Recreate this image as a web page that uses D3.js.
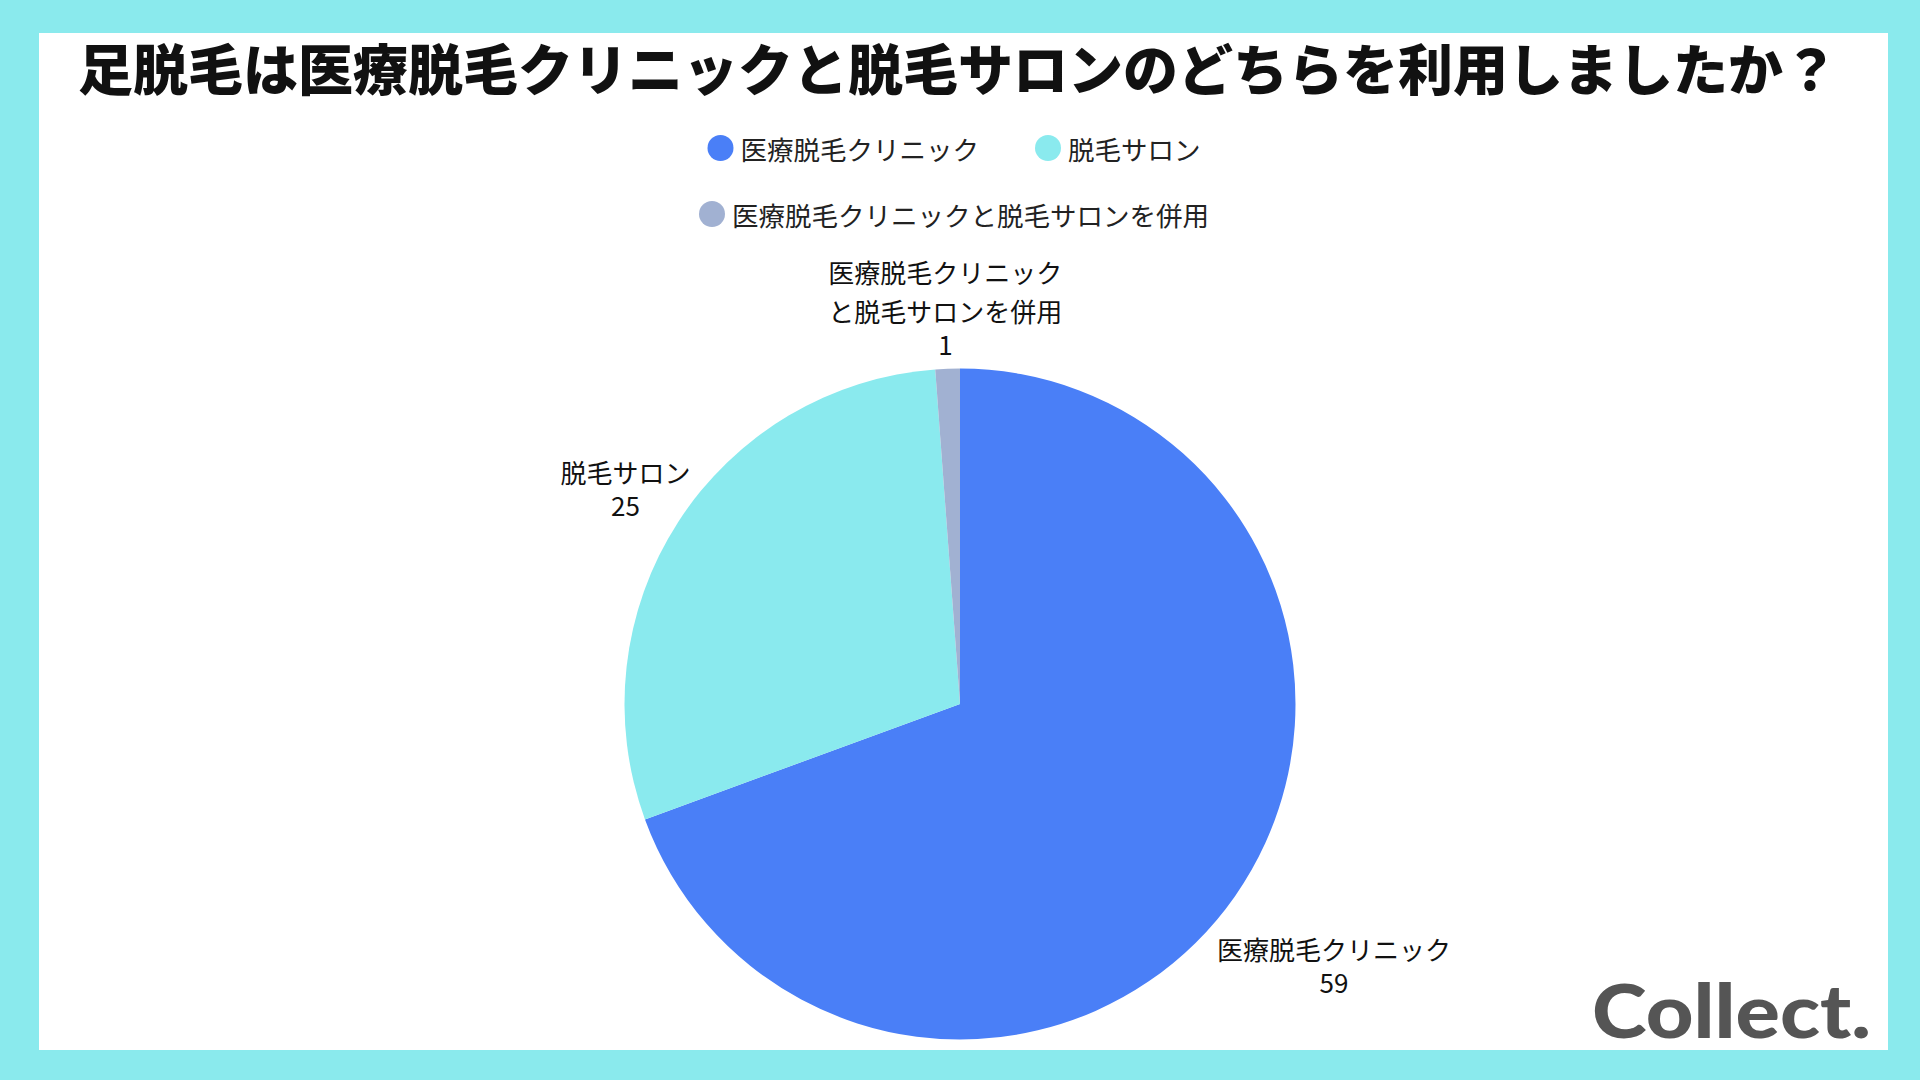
<!DOCTYPE html>
<html><head><meta charset="utf-8">
<script src="https://cdn.jsdelivr.net/npm/d3@7/dist/d3.min.js"></script>
<style>
html,body{margin:0;padding:0;background:#8aeaed;}
svg{display:block;}
</style></head>
<body>
<svg id="c" width="1920" height="1080"></svg>
<script>
const title = "足脱毛は医療脱毛クリニックと脱毛サロンのどちらを利用しましたか？";
const categories = ["医療脱毛クリニック", "脱毛サロン", "医療脱毛クリニックと脱毛サロンを併用"];
const labelLines = [["医療脱毛クリニック"], ["脱毛サロン"], ["医療脱毛クリニック", "と脱毛サロンを併用"]];
const values = [59, 25, 1];
const colors = ["#4a7ff7", "#8aeaee", "#a1b1d2"];

const svg = d3.select("#c");
const W = 1920, H = 1080;
const FONT = "'Noto Sans CJK JP','Noto Sans',sans-serif";

svg.append("rect").attr("width", W).attr("height", H).attr("fill", "#8aeaed");
svg.append("rect").attr("x", 39).attr("y", 33).attr("width", 1849).attr("height", 1017).attr("fill", "#ffffff");

svg.append("text").attr("x", 958).attr("y", 66)
  .attr("text-anchor", "middle").attr("dominant-baseline", "central")
  .attr("font-family", FONT).attr("font-weight", 900).attr("font-size", 55)
  .attr("fill", "#111").text(title);

// legend
const legendRows = [[0, 1], [2]];
const legendY = [148, 214];
legendRows.forEach((row, ri) => {
  const g = svg.append("g");
  let x = 0;
  row.forEach((i, k) => {
    const it = g.append("g").attr("transform", `translate(${x},0)`);
    it.append("circle").attr("cx", 13).attr("cy", 0).attr("r", 13).attr("fill", colors[i]);
    const t = it.append("text").attr("x", 33).attr("y", 0).attr("dominant-baseline", "central")
      .attr("font-family", FONT).attr("font-size", 26.5).attr("fill", "#222").text(categories[i]);
    const w = t.node().getComputedTextLength();
    x += 33 + w + (k < row.length - 1 ? 56 : 0);
  });
  g.attr("transform", `translate(${960 - x / 2 - 6},${legendY[ri]})`);
});

// pie
const cx = 960, cy = 704, R = 335.5;
const pie = d3.pie().sort(null).value(d => d)(values);
const arc = d3.arc().innerRadius(0).outerRadius(R);
const pg = svg.append("g").attr("transform", `translate(${cx},${cy})`);
pg.selectAll("path").data(pie).enter().append("path")
  .attr("d", arc).attr("fill", (d, i) => colors[i]);

// labels
const nameLineH = 39, valueGap = 33, fs = 26;
const radialNudge = [4, -12, 2];
pie.forEach((d, i) => {
  const a = (d.startAngle + d.endAngle) / 2;
  const dx = Math.sin(a), dy = -Math.cos(a);
  const names = labelLines[i];
  const ys = names.map((_, j) => j * nameLineH);
  ys.push(ys[ys.length - 1] + valueGap);
  const lines = names.concat([String(values[i])]);
  const mid = (ys[0] + ys[ys.length - 1]) / 2;
  const g = pg.append("g");
  const t = g.append("text").attr("text-anchor", "middle")
    .attr("font-family", FONT).attr("font-size", fs).attr("fill", "#111");
  lines.forEach((l, j) => {
    t.append("tspan").attr("x", 0).attr("y", ys[j] - mid)
      .attr("dominant-baseline", "central").text(l);
  });
  const bb = t.node().getBBox();
  const w = bb.width, h = ys[ys.length - 1] - ys[0] + 33;
  const dist = R + 2 + radialNudge[i] + Math.abs(dx) * w / 2 + Math.abs(dy) * h / 2;
  g.attr("transform", `translate(${dx * dist},${dy * dist})`);
});

// logo
svg.append("text").attr("x", 1592).attr("y", 1038)
  .attr("font-family", "Lato, 'Open Sans', sans-serif").attr("font-weight", 900)
  .attr("font-size", 74).attr("fill", "#555555")
  .attr("textLength", 279).attr("lengthAdjust", "spacingAndGlyphs").text("Collect.");
</script>
</body></html>
